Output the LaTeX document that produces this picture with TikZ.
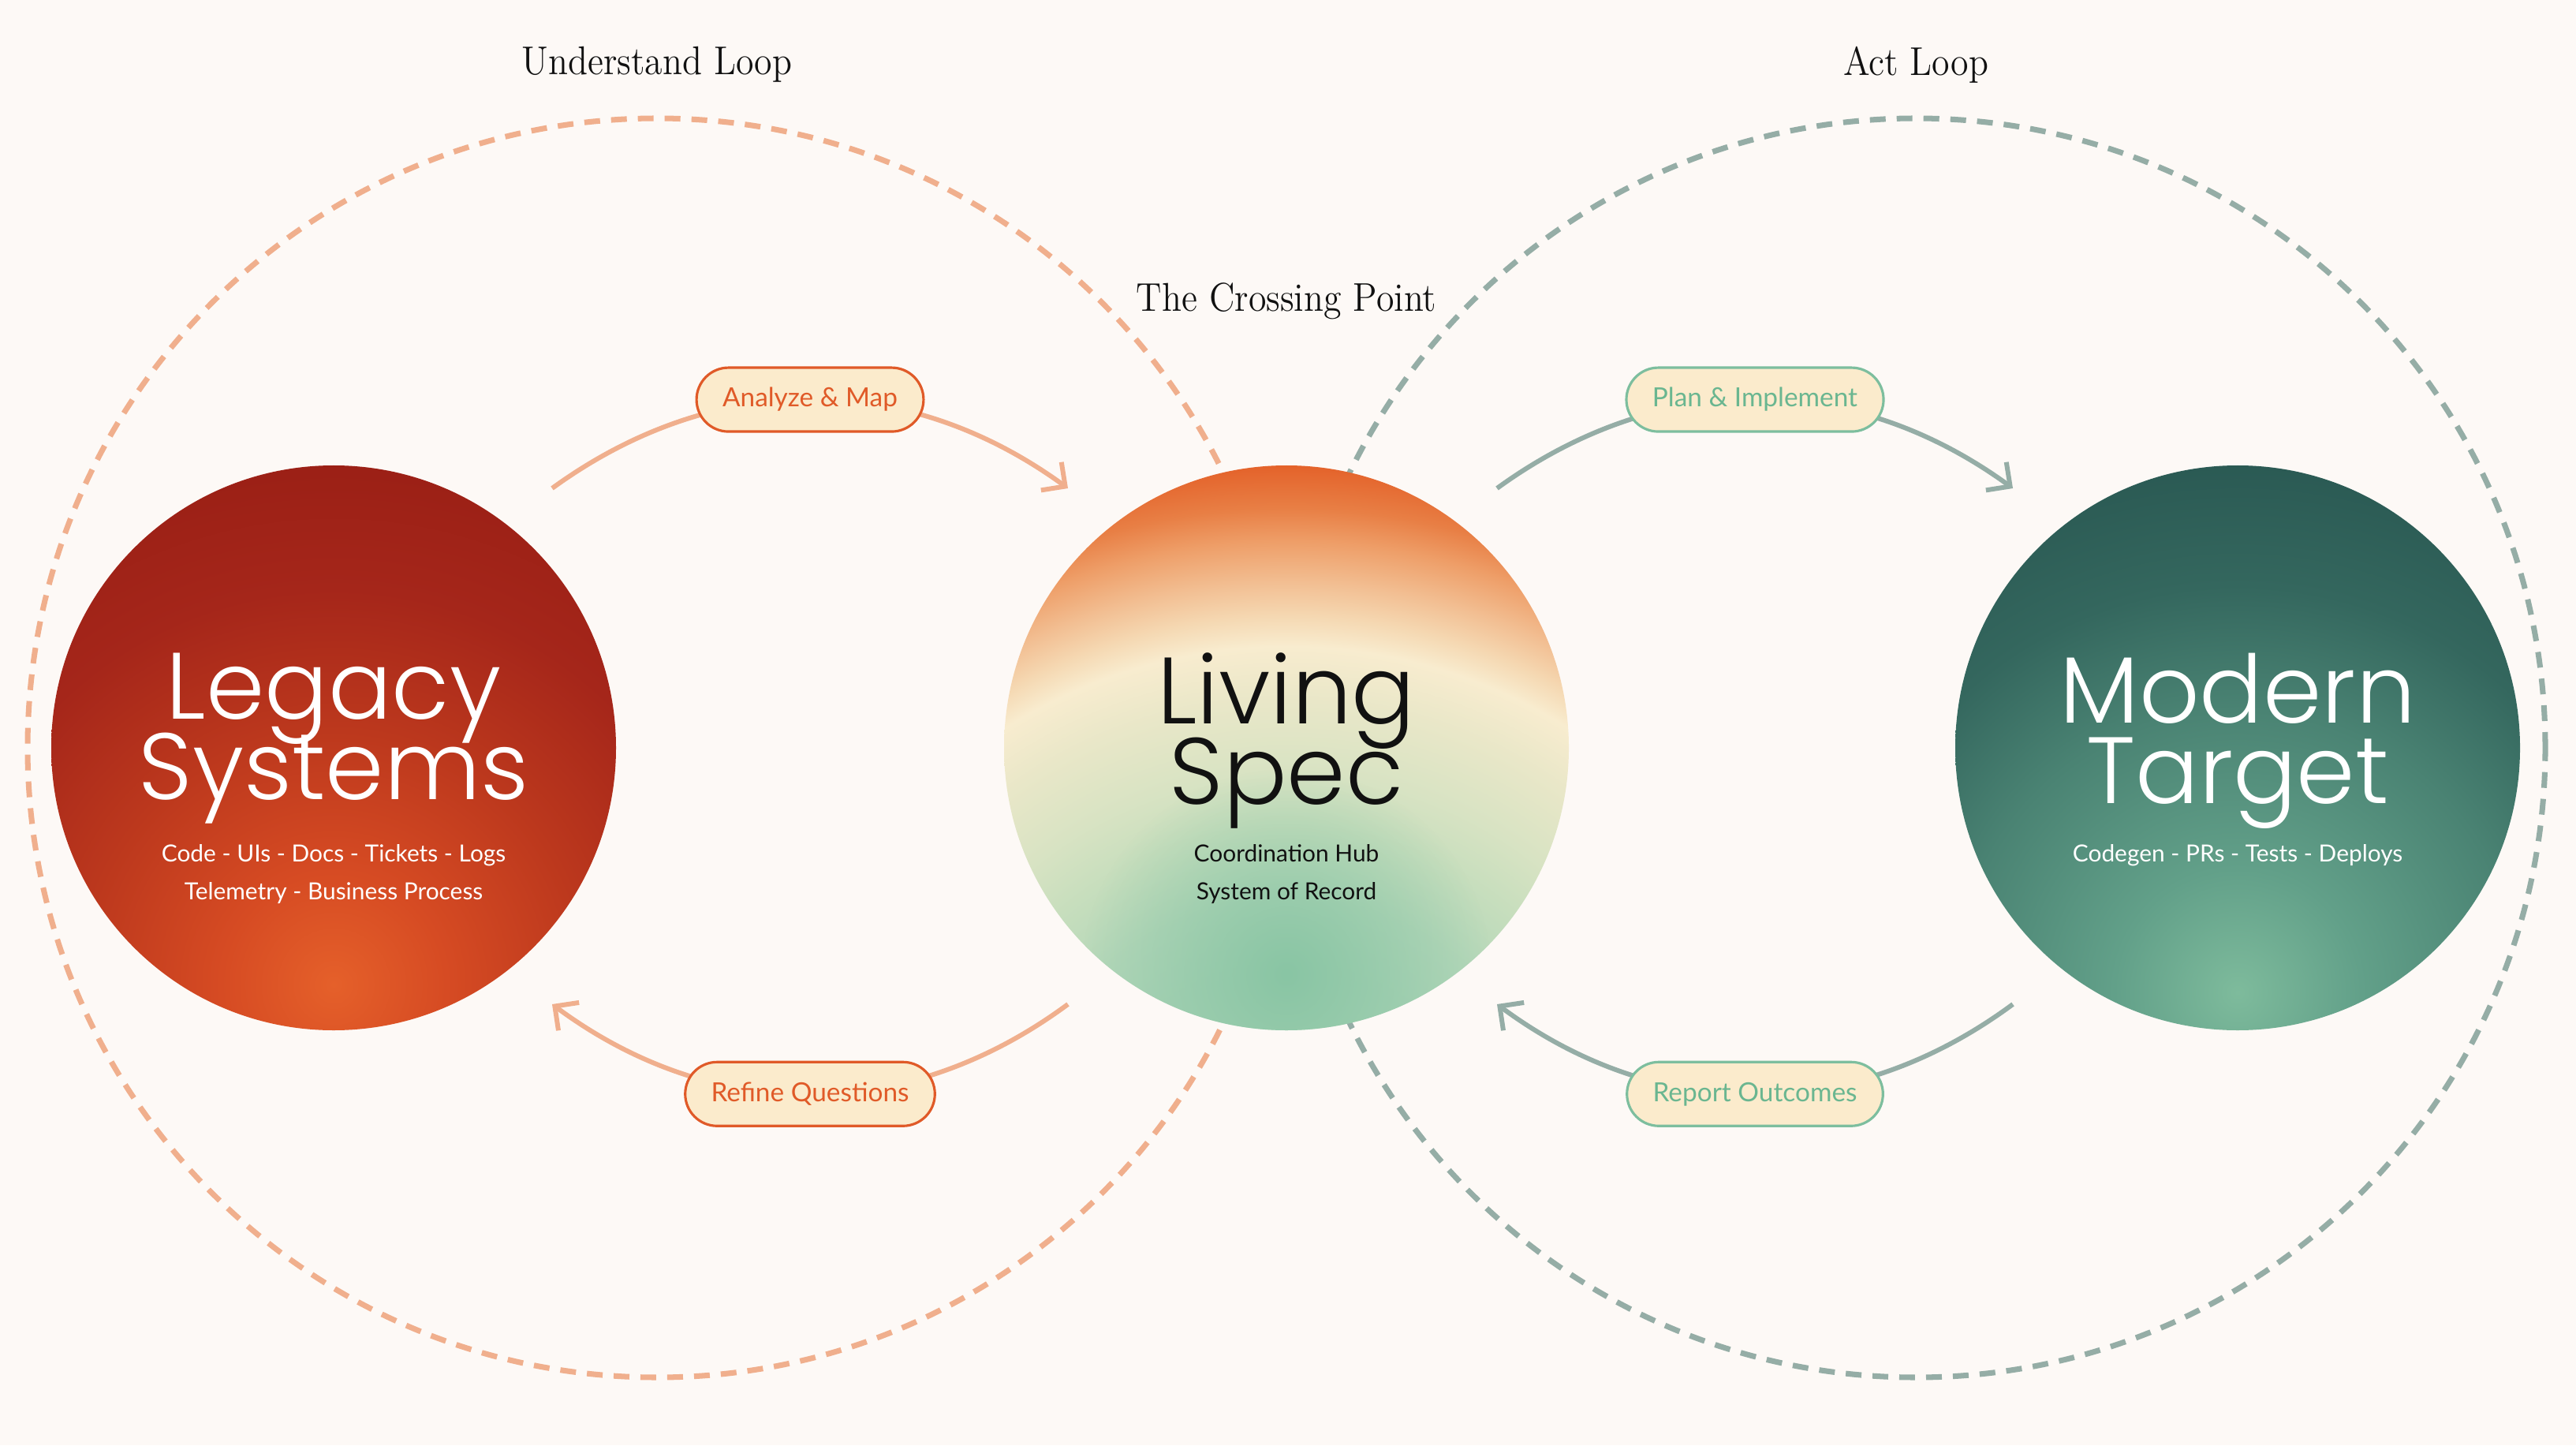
\documentclass[tikz,border=0pt]{standalone}
\usepackage{fontspec}
\usepackage{tikz}
\usetikzlibrary{positioning,arrows.meta,shapes.misc,fadings}
\usepackage{xcolor}
\newfontfamily\headfont{Poppins Light}
\newfontfamily\bodyfont{Lato}
\newfontfamily\loopfont{lmroman12-regular.otf}[FakeStretch=0.9]
\newcommand\hubheadfont{\headfont\fontsize{34}{29}\selectfont\lineskiplimit-30pt\relax}
\definecolor{Paper}{HTML}{FDF9F6}
\definecolor{Ember}{HTML}{E05A28}
\definecolor{Salmon}{HTML}{F0AF8D}
\definecolor{Sage}{HTML}{95ADA6}
\definecolor{Mint}{HTML}{6AB690}
\definecolor{MintLine}{HTML}{7DBE9E}
\definecolor{Cream}{HTML}{FBEBCC}
\definecolor{Ink}{HTML}{111111}
% hub gradients
\definecolor{LegA}{HTML}{E5602A}
\definecolor{LegB}{HTML}{D64B23}
\definecolor{LegC}{HTML}{BC381D}
\definecolor{LegD}{HTML}{A5261A}
\definecolor{LegE}{HTML}{9A1F15}
\definecolor{ModA}{HTML}{7EBB9C}
\definecolor{ModB}{HTML}{62A089}
\definecolor{ModC}{HTML}{4A8373}
\definecolor{ModD}{HTML}{34675E}
\definecolor{ModE}{HTML}{2A5953}
\definecolor{LivSpot}{HTML}{89C5A4}
\definecolor{LivA}{HTML}{ACD4B7}
\definecolor{LivB}{HTML}{B4D7B9}
\definecolor{LivC}{HTML}{C7DEBD}
\definecolor{LivD}{HTML}{D8E3C3}
\definecolor{LivE}{HTML}{E9E7C8}
\definecolor{LivF}{HTML}{F8ECCF}
\definecolor{LivG}{HTML}{F5D8B2}
\definecolor{LivH}{HTML}{F2BF93}
\definecolor{LivI}{HTML}{EE9E68}
\definecolor{LivJ}{HTML}{E87F45}
\definecolor{LivK}{HTML}{E4632B}
\pgfdeclareradialshading{legacyglow}{\pgfpoint{0bp}{0bp}}{%
  color(0bp)=(LegA); color(5.1bp)=(LegB); color(11.5bp)=(LegC);
  color(17.9bp)=(LegD); color(24.3bp)=(LegE); color(50bp)=(LegE)}
\pgfdeclareradialshading{modernglow}{\pgfpoint{0bp}{0bp}}{%
  color(0bp)=(ModA); color(5.6bp)=(ModB); color(12.8bp)=(ModC);
  color(18.4bp)=(ModD); color(24.3bp)=(ModE); color(50bp)=(ModE)}
\pgfdeclareradialshading{livingglow}{\pgfpoint{0bp}{0bp}}{%
  color(0bp)=(LivA); color(6.7bp)=(LivA); color(9.1bp)=(LivB);
  color(11.5bp)=(LivC); color(13.4bp)=(LivD); color(15.8bp)=(LivE);
  color(17.6bp)=(LivF); color(18.6bp)=(LivG); color(19.7bp)=(LivH);
  color(21.1bp)=(LivI); color(22.2bp)=(LivJ); color(23.6bp)=(LivK);
  color(50bp)=(LivK)}
\tikzfading[name=spotfade, inner color=transparent!0, outer color=transparent!100]

\begin{document}
\begin{tikzpicture}[
    hub/.style={circle, minimum size=7.16cm, inner sep=0pt},
    glow/.style n args={3}{path picture={\shade[shading=#1] ([yshift=#2]path picture bounding box.center) circle[radius=#3];}},
    hubtitle/.style={font=\hubheadfont, align=center, inner sep=0pt, anchor=north},
    hubnote/.style={font=\bodyfont\fontsize{8.5}{13.5}\selectfont, align=center, inner sep=0pt, anchor=north},
    looptitle/.style={font=\loopfont\fontsize{14.5}{16}\selectfont, text=Ink},
    pill/.style={rounded rectangle, draw, line width=0.9pt, fill=Cream, minimum height=0.81cm, inner xsep=0.3cm, font=\bodyfont\fontsize{9.5}{11}\selectfont},
    warmpill/.style={pill, draw=Ember, text=Ember},
    coolpill/.style={pill, draw=MintLine, text=Mint},
    flow/.style={-{Straight Barb[length=0.22cm,width=0.44cm]}, line width=1.7pt},
    warmflow/.style={flow, draw=Salmon},
    coolflow/.style={flow, draw=Sage},
    loopring/.style={line width=2pt, dash pattern=on 0.2cm off 0.14cm}
  ]
  \fill[Paper] (0,0) rectangle (32.66,18.32);
  \useasboundingbox (0,0) rectangle (32.66,18.32);

  % the two loops
  \draw[loopring, Salmon] (8.33,8.84) circle[radius=7.98];
  \draw[loopring, Sage] (24.29,8.84) circle[radius=7.98];
  \node[looptitle] (understand) at (8.33,17.50) {Understand Loop};
  \node[looptitle] (act) at (24.29,17.50) {Act Loop};
  \node[looptitle] (crossing) at (16.31,14.50) {The Crossing Point};

  % flows
  \coordinate (am-start) at (7.00,12.13);
  \coordinate (am-end) at (13.54,12.13);
  \coordinate (rq-start) at (13.54,5.59);
  \coordinate (rq-end) at (7.00,5.59);
  \coordinate (pi-start) at (18.98,12.13);
  \coordinate (pi-end) at (25.52,12.13);
  \coordinate (ro-start) at (25.52,5.59);
  \coordinate (ro-end) at (18.98,5.59);
  \draw[warmflow] (am-start) to[bend left=36] node[warmpill] (analyze) {Analyze \& Map} (am-end);
  \draw[warmflow] (rq-start) to[bend left=36.5] node[warmpill] (refine) {Refine Questions} (rq-end);
  \draw[coolflow] (pi-start) to[bend left=36] node[coolpill] (plan) {Plan \& Implement} (pi-end);
  \draw[coolflow] (ro-start) to[bend left=36.5] node[coolpill] (report) {Report Outcomes} (ro-end);

  % hubs
  \node[hub, glow={legacyglow}{-3cm}{7cm}] (legacy) at (4.23,8.84) {};
  \node[hub, path picture={
      \shade[shading=livingglow] ([yshift=-5.4cm]path picture bounding box.center) circle[radius=9.5cm];
      \fill[LivSpot, path fading=spotfade] ([yshift=-2.87cm]path picture bounding box.center) circle[radius=2.6cm];
    }] (living) at (16.31,8.84) {};
  \node[hub, glow={modernglow}{-3.1cm}{7cm}] (modern) at (28.37,8.84) {};

  \node[hubtitle, text=white] (legacy-title) at ([yshift=1.21cm]legacy.center) {Legacy\\Systems};
  \node[hubnote, text=white] (legacy-note) at ([yshift=-1.22cm]legacy.center) {Code - UIs - Docs - Tickets - Logs\\Telemetry - Business Process};
  \node[hubtitle, text=Ink] (living-title) at ([yshift=1.21cm]living.center) {Living\\Spec};
  \node[hubnote, text=Ink] (living-note) at ([yshift=-1.22cm]living.center) {Coordination Hub\\System of Record};
  \node[hubtitle, text=white] (modern-title) at ([yshift=1.21cm]modern.center) {Modern\\Target};
  \node[hubnote, text=white] (modern-note) at ([yshift=-1.22cm]modern.center) {Codegen - PRs - Tests - Deploys};
\end{tikzpicture}
\end{document}
